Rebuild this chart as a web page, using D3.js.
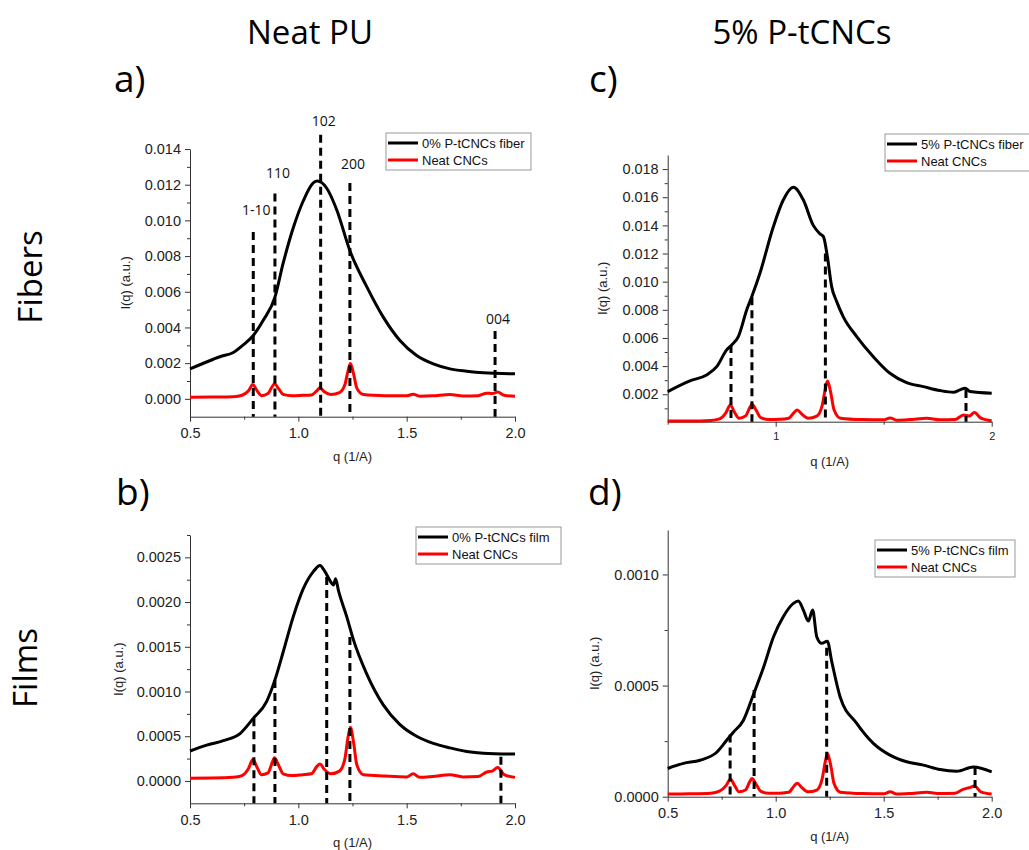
<!DOCTYPE html>
<html lang="en">
<head>
  <meta charset="UTF-8">
  <title>WAXS profiles - Neat PU vs 5% P-tCNCs</title>
  <script src="https://d3js.org/d3.v7.min.js"></script>
  <style>
    body { margin: 0; background: #fff; }
    .axis path, .axis line { stroke: #333; stroke-width: 1px; }
    .axis text { font-family: "Liberation Sans", Arial, sans-serif; font-size: 14.5px; fill: #222; }
    .big { font-family: "Open Sans", sans-serif; fill: #000; }
    .lab { font-family: "Liberation Sans", Arial, sans-serif; font-size: 13px; fill: #222; }
    .legend text { font-family: "Liberation Sans", Arial, sans-serif; font-size: 13px; fill: #111; }
    .peak { font-family: "Open Sans", sans-serif; font-size: 14px; fill: #111; }
  </style>
</head>
<body>
  <svg width="1029" height="850"></svg>

  <script>
    // ---- data ----
    // black curves (PU samples), each with its own q grid
    const fiber0Q = [0.5, 0.608, 0.638, 0.70, 0.746, 0.792, 0.838, 0.892, 0.93, 0.977, 1.023, 1.069, 1.088, 1.131, 1.177, 1.238, 1.315, 1.392, 1.469, 1.546, 1.623, 1.70, 1.777, 1.854, 2.0];
    const fiber0I = [0.00168, 0.00222, 0.00236, 0.0026, 0.00302, 0.00355, 0.0044, 0.0057, 0.0076, 0.0096, 0.0111, 0.0121, 0.0122, 0.0118, 0.0106, 0.0083, 0.0063, 0.00458, 0.00327, 0.00243, 0.00196, 0.00168, 0.00155, 0.00146, 0.0014];

    const film0Q = [0.5, 0.577, 0.654, 0.731, 0.792, 0.854, 0.892, 0.931, 0.977, 1.023, 1.069, 1.10, 1.123, 1.154, 1.162, 1.172, 1.185, 1.223, 1.254, 1.315, 1.392, 1.469, 1.546, 1.623, 1.70, 1.777, 1.854, 2.0];
    const film0I = [0.000335, 0.0004, 0.00045, 0.00053, 0.0007, 0.00089, 0.00113, 0.00145, 0.00184, 0.00215, 0.00234, 0.00241, 0.00234, 0.00221, 0.00219, 0.00226, 0.00213, 0.00184, 0.00158, 0.0012, 0.00085, 0.00063, 0.0005, 0.00042, 0.00037, 0.00033, 0.00031, 0.0003];

    const fiber5Q = [0.5, 0.603, 0.68, 0.727, 0.773, 0.796, 0.827, 0.866, 0.892, 0.927, 0.989, 1.035, 1.082, 1.128, 1.174, 1.205, 1.221, 1.239, 1.259, 1.282, 1.313, 1.375, 1.452, 1.529, 1.606, 1.684, 1.761, 1.823, 1.853, 1.877, 1.90, 2.0];
    const fiber5I = [0.00219, 0.00295, 0.00337, 0.00396, 0.00515, 0.0055, 0.0061, 0.008, 0.00905, 0.0106, 0.0139, 0.0158, 0.0167, 0.0158, 0.014, 0.0134, 0.0132, 0.0118, 0.00965, 0.0086, 0.0075, 0.0061, 0.00467, 0.00349, 0.00283, 0.00254, 0.00226, 0.00214, 0.00231, 0.00243, 0.00219, 0.00207];

    const film5Q = [0.5, 0.573, 0.65, 0.727, 0.773, 0.804, 0.85, 0.897, 0.943, 0.99, 1.035, 1.082, 1.105, 1.128, 1.151, 1.171, 1.19, 1.213, 1.239, 1.259, 1.298, 1.375, 1.452, 1.529, 1.606, 1.684, 1.761, 1.838, 1.915, 2.0];
    const film5I = [0.000127, 0.00015, 0.000164, 0.0002, 0.000254, 0.00029, 0.000343, 0.00046, 0.00058, 0.00072, 0.00081, 0.00087, 0.00088, 0.00084, 0.00079, 0.00084, 0.00072, 0.00069, 0.0007, 0.00061, 0.00045, 0.00033, 0.00024, 0.000187, 0.000157, 0.000142, 0.000122, 0.000115, 0.000134, 0.000112];

    // red curves (neat CNCs), one shared q grid
    const cncQ = [0.50, 0.60, 0.70, 0.74, 0.77, 0.79, 0.81, 0.83, 0.86, 0.88, 0.89, 0.91, 0.93, 0.97, 1.02, 1.06, 1.085, 1.10, 1.12, 1.15, 1.19, 1.215, 1.23, 1.24, 1.255, 1.27, 1.30, 1.40, 1.50, 1.53, 1.56, 1.62, 1.70, 1.76, 1.83, 1.87, 1.895, 1.92, 1.95, 2.00];
    const cncA = [0.00009, 0.0001, 0.00012, 0.0002, 0.00045, 0.0008, 0.00045, 0.00018, 0.0003, 0.0007, 0.00084, 0.00055, 0.00025, 0.00018, 0.0002, 0.00022, 0.00045, 0.00062, 0.0004, 0.00025, 0.00035, 0.0008, 0.0016, 0.00198, 0.0014, 0.0006, 0.00025, 0.00018, 0.00017, 0.00026, 0.00015, 0.00017, 0.00025, 0.00016, 0.00018, 0.00032, 0.0003, 0.00038, 0.0002, 0.00014];
    const cncB = [0.00003, 0.000032, 0.00004, 0.00006, 0.00014, 0.00024, 0.00015, 0.00007, 0.00009, 0.00021, 0.00026, 0.00017, 0.00008, 0.00006, 0.00007, 0.00008, 0.00016, 0.00019, 0.00013, 0.00008, 0.00011, 0.00025, 0.0005, 0.0006, 0.00043, 0.00018, 0.00007, 0.000055, 0.000045, 0.00008, 0.00004, 0.00005, 0.00007, 0.000045, 0.00005, 0.0001, 0.00011, 0.00015, 0.00007, 0.00004];
    const cncC = [0.0001, 0.0001, 0.00014, 0.00025, 0.0007, 0.00124, 0.0007, 0.0003, 0.00045, 0.00105, 0.00129, 0.00085, 0.00035, 0.0002, 0.00022, 0.0003, 0.0007, 0.00089, 0.0006, 0.0003, 0.00045, 0.0012, 0.0024, 0.00295, 0.0021, 0.0009, 0.0003, 0.0002, 0.00018, 0.00032, 0.00016, 0.0002, 0.0003, 0.00018, 0.0002, 0.00053, 0.00045, 0.0007, 0.0003, 0.00012];
    const cncD = [0.000012, 0.000013, 0.000016, 0.000025, 0.00005, 0.000078, 0.00005, 0.000022, 0.00003, 0.000068, 0.000082, 0.000055, 0.000025, 0.000015, 0.000016, 0.00002, 0.000048, 0.00006, 0.000042, 0.000022, 0.00003, 0.00008, 0.00016, 0.000194, 0.00014, 0.00006, 0.00002, 0.000014, 0.000013, 0.000022, 0.000012, 0.000014, 0.00002, 0.000014, 0.000016, 0.000034, 0.00004, 0.000048, 0.000022, 0.000012];

    // dashed reflection markers: q position and top value
    const refAq = [0.792, 0.892, 1.103, 1.238, 1.908];
    const refAtop = [0.00935, 0.0115, 0.0148, 0.0121, 0.0038];
    const refBq = [0.795, 0.892, 1.131, 1.238, 1.935];
    const refBtop = [0.0007, 0.00113, 0.00228, 0.00161, 0.00027];
    const refCq = [0.793, 0.89, 1.23, 1.881];
    const refCtop = [0.0055, 0.0089, 0.012, 0.0023];
    const refDq = [0.789, 0.90, 1.236, 1.923];
    const refDtop = [0.00028, 0.00048, 0.00067, 0.000134];

    // Miller index labels in panel a
    const peakLabels = ["1-10", "110", "102", "200", "004"];
    const peakLabelY = [0.0103, 0.0124, 0.0153, 0.0129, 0.0042];

    const legendA = ["0% P-tCNCs fiber", "Neat CNCs"];
    const legendB = ["0% P-tCNCs film", "Neat CNCs"];
    const legendC = ["5% P-tCNCs fiber", "Neat CNCs"];
    const legendD = ["5% P-tCNCs film", "Neat CNCs"];

    const svg = d3.select("svg");

    const zip = (q, v) => q.map((d, i) => [d, v[i]]);
    const steps = (n, step, start = 0) => d3.range(n).map(i => +(start + i * step).toFixed(6));

    const panels = [
      { letter: "a)", lx: 114, ly: 92, x0: 190, x1: 515, y0: 149, y1: 416.7,
        yDom: [-0.001, 0.014], yMajor: steps(8, 0.002), yMinor: steps(8, 0.002, 0.001).filter(v => v < 0.014),
        yFmt: d3.format(".3f"), xMajor: [0.5, 1, 1.5, 2], xMinor: [0.75, 1.25, 1.75], xFmt: d3.format(".1f"), xFont: 14.5,
        black: zip(fiber0Q, fiber0I), red: zip(cncQ, cncA), refQ: refAq, refTop: refAtop,
        legend: legendA, lg: [386, 133, 145], ylx: 130 },
      { letter: "b)", lx: 116, ly: 505, x0: 190, x1: 515, y0: 535, y1: 803.3,
        yDom: [-0.00025, 0.00275], yMajor: steps(6, 0.0005), yMinor: steps(6, 0.0005, 0.00025),
        yFmt: d3.format(".4f"), xMajor: [0.5, 1, 1.5, 2], xMinor: [0.75, 1.25, 1.75], xFmt: d3.format(".1f"), xFont: 14.5,
        black: zip(film0Q, film0I), red: zip(cncQ, cncB), refQ: refBq, refTop: refBtop,
        legend: legendB, lg: [416, 527, 145], ylx: 123 },
      { letter: "c)", lx: 589, ly: 92, x0: 667.7, x1: 991.7, y0: 155, y1: 421.7,
        yDom: [0.00005, 0.019], yMajor: steps(9, 0.002, 0.002), yMinor: steps(9, 0.002, 0.001),
        yFmt: d3.format(".3f"), xMajor: [1, 2], xMinor: [0.5, 1.5], xFmt: d3.format("d"), xFont: 11,
        black: zip(fiber5Q, fiber5I), red: zip(cncQ, cncC), refQ: refCq, refTop: refCtop,
        legend: legendC, lg: [885, 134, 150], ylx: 607 },
      { letter: "d)", lx: 588, ly: 505, x0: 667.7, x1: 991.7, y0: 530, y1: 796.7,
        yDom: [0, 0.0012], yMajor: [0, 0.0005, 0.001], yMinor: [0.00025, 0.00075],
        yFmt: d3.format(".4f"), xMajor: [0.5, 1, 1.5, 2], xMinor: [0.75, 1.25, 1.75], xFmt: d3.format(".1f"), xFont: 14.5,
        black: zip(film5Q, film5I), red: zip(cncQ, cncD), refQ: refDq, refTop: refDtop,
        legend: legendD, lg: [875, 540, 140], ylx: 599 }
    ];

    panels.forEach((p, idx) => {
      const x = d3.scaleLinear().domain([0.5, 2]).range([p.x0, p.x1]);
      const y = d3.scaleLinear().domain(p.yDom).range([p.y1, p.y0]);
      const g = svg.append("g");

      // axes: major + minor ticks, outward
      g.append("g").attr("class", "axis").attr("transform", `translate(0,${p.y1})`)
        .call(d3.axisBottom(x).tickValues(p.xMinor).tickSize(3).tickFormat(""))
        .call(a => a.select(".domain").remove());
      g.append("g").attr("class", "axis").attr("transform", `translate(0,${p.y1})`)
        .call(d3.axisBottom(x).tickValues(p.xMajor).tickSize(5).tickSizeOuter(0).tickPadding(6).tickFormat(p.xFmt))
        .call(a => a.selectAll("text").style("font-size", p.xFont + "px"));
      g.append("g").attr("class", "axis").attr("transform", `translate(${p.x0},0)`)
        .call(d3.axisLeft(y).tickValues(p.yMinor).tickSize(3).tickFormat(""))
        .call(a => a.select(".domain").remove());
      g.append("g").attr("class", "axis").attr("transform", `translate(${p.x0},0)`)
        .call(d3.axisLeft(y).tickValues(p.yMajor).tickSize(5).tickSizeOuter(0).tickPadding(4).tickFormat(p.yFmt));

      // axis titles
      g.append("text").attr("class", "lab").attr("text-anchor", "middle")
        .attr("transform", `translate(${p.ylx},${(p.y0 + p.y1) / 2}) rotate(-90)`)
        .text("I(q) (a.u.)");
      g.append("text").attr("class", "lab").attr("text-anchor", "middle")
        .attr("x", (p.x0 + p.x1) / 2).attr("y", p.y1 + 44)
        .text("q (1/A)");

      // curves
      const line = d3.line().x(d => x(d[0])).y(d => y(d[1])).curve(d3.curveMonotoneX);
      g.append("path").datum(p.black).attr("d", line)
        .attr("fill", "none").attr("stroke", "#000").attr("stroke-width", 3).attr("stroke-linejoin", "round");
      g.append("path").datum(p.red).attr("d", line)
        .attr("fill", "none").attr("stroke", "#ff0000").attr("stroke-width", 3).attr("stroke-linejoin", "round");

      // dashed reflection markers
      g.selectAll(".ref").data(p.refQ).enter().append("line")
        .attr("x1", d => x(d)).attr("x2", d => x(d))
        .attr("y1", (d, i) => y(p.refTop[i])).attr("y2", p.y1)
        .attr("stroke", "#000").attr("stroke-width", 3).attr("stroke-dasharray", "8,5");

      if (idx === 0) {
        g.selectAll(".peak").data(peakLabels).enter().append("text")
          .attr("class", "peak").attr("text-anchor", "middle")
          .attr("x", (d, i) => x(p.refQ[i]) + 3)
          .attr("y", (d, i) => y(peakLabelY[i]))
          .text(d => d);
      }

      // legend
      const [lx, ly, lw] = p.lg;
      const lgd = g.append("g").attr("class", "legend");
      lgd.append("rect").attr("x", lx).attr("y", ly).attr("width", lw).attr("height", 37)
        .attr("fill", "#fff").attr("stroke", "#999").attr("stroke-width", 1);
      const colors = ["#000", "#ff0000"];
      p.legend.forEach((t, i) => {
        const yy = ly + 10 + i * 17;
        lgd.append("line").attr("x1", lx + 2).attr("x2", lx + 32).attr("y1", yy).attr("y2", yy)
          .attr("stroke", colors[i]).attr("stroke-width", 3);
        lgd.append("text").attr("x", lx + 36).attr("y", yy + 4.5).text(t);
      });

      // panel letter
      svg.append("text").attr("class", "big").attr("x", p.lx).attr("y", p.ly)
        .style("font-size", "37px").text(p.letter);
    });

    // column and row headings
    svg.append("text").attr("class", "big").attr("text-anchor", "middle")
      .attr("x", 310).attr("y", 44).style("font-size", "33px").text("Neat PU");
    svg.append("text").attr("class", "big").attr("text-anchor", "middle")
      .attr("x", 802).attr("y", 44).style("font-size", "33px").text("5% P-tCNCs");
    svg.append("text").attr("class", "big").attr("text-anchor", "middle")
      .attr("transform", "translate(42,277) rotate(-90)").style("font-size", "33px").text("Fibers");
    svg.append("text").attr("class", "big").attr("text-anchor", "middle")
      .attr("transform", "translate(37,668) rotate(-90)").style("font-size", "33px").text("Films");
  </script>
</body>
</html>
